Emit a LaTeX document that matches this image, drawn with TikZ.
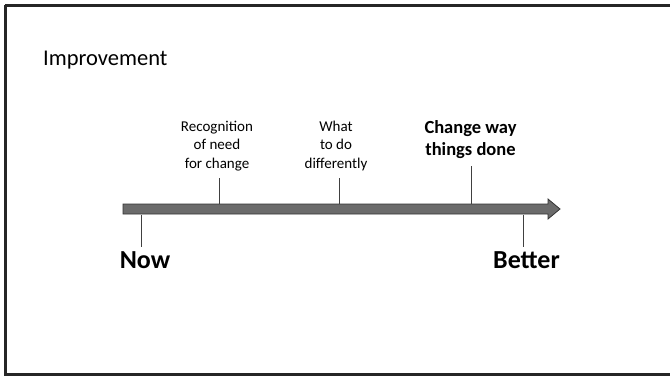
\documentclass[tikz,border=0pt]{standalone}
\usepackage{fontspec}
\setmainfont{Carlito}
\begin{document}
\begin{tikzpicture}[x=1pt,y=-1pt,
  lbl/.style={inner sep=0pt,align=center,font=\fontsize{15}{18.5}\selectfont},
  blbl/.style={inner sep=0pt,align=center,font=\fontsize{18.5}{22}\selectfont\bfseries},
  endlbl/.style={inner sep=0pt,anchor=base,font=\fontsize{26}{30}\selectfont\bfseries},
  tick/.style={draw=black!75,line width=0.9pt}]
\useasboundingbox (0,0) rectangle (670,378);
\draw[line width=3pt,black!85] (5,5) -- (676,5);
\draw[line width=3pt,black!85] (5,5) -- (5,374) -- (676,374);
% title
\node[anchor=base west,inner sep=0pt,font=\fontsize{22.5}{26}\selectfont] (title) at (43,65) {Improvement};
% arrow
\draw[fill=black!58,draw=black!80,line width=0.8pt]
  (123,204) -- (548,204) -- (548,199) -- (560,209) -- (548,219) -- (548,214) -- (123,214) -- cycle;
% labels above
\node[lbl,anchor=base] (rec) at (217,168) {Recognition\\of need\\for change};
\node[lbl,anchor=base] (what) at (336,168) {What\\to do\\differently};
\node[blbl,anchor=base] (chg) at (470.5,155) {Change way\\things done};
\coordinate (t1) at (219,203.5);
\coordinate (t2) at (339,203.5);
\coordinate (t3) at (471,203.5);
\draw[tick] (219,178) -- (t1);
\draw[tick] (339,178) -- (t2);
\draw[tick] (471,166) -- (t3);
% end labels
\node[endlbl] (now) at (145,268) {Now};
\node[endlbl] (bet) at (526.5,268) {Better};
\coordinate (b1) at (141,214.5);
\coordinate (b2) at (523,214.5);
\draw[tick] (b1) -- (141,247);
\draw[tick] (b2) -- (523,247);
\end{tikzpicture}
\end{document}
